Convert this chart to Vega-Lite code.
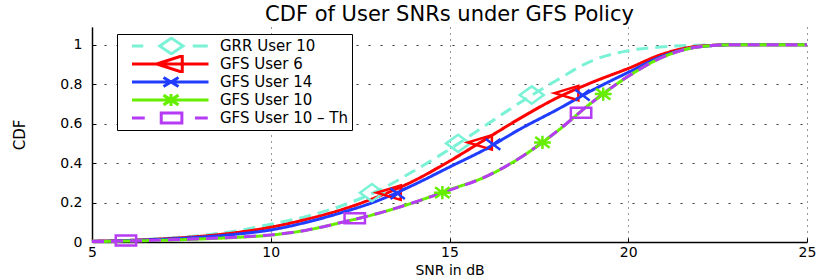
{
  "$schema": "https://vega.github.io/schema/vega-lite/v6.json",
  "width": 715,
  "height": 215,
  "autosize": {"type": "none"},
  "padding": {"left": 92, "top": 27, "right": 23, "bottom": 35},
  "background": "white",
  "config": {"view": {"stroke": null}, "font": "DejaVu Sans"},
  "title": {"text": "CDF of User SNRs under GFS Policy", "fontSize": 21, "fontWeight": "normal", "font": "DejaVu Sans", "color": "black", "anchor": "middle", "offset": 2},
  "datasets": {
    "curves": [
      {"series": "GRR User 10", "snr": 5, "cdf": 0.004}, {"series": "GRR User 10", "snr": 6, "cdf": 0.009}, {"series": "GRR User 10", "snr": 7, "cdf": 0.018}, {"series": "GRR User 10", "snr": 8, "cdf": 0.032}, {"series": "GRR User 10", "snr": 9, "cdf": 0.055}, {"series": "GRR User 10", "snr": 10, "cdf": 0.09}, {"series": "GRR User 10", "snr": 11, "cdf": 0.13}, {"series": "GRR User 10", "snr": 12, "cdf": 0.185}, {"series": "GRR User 10", "snr": 13, "cdf": 0.26}, {"series": "GRR User 10", "snr": 14, "cdf": 0.36}, {"series": "GRR User 10", "snr": 15, "cdf": 0.47}, {"series": "GRR User 10", "snr": 16, "cdf": 0.59}, {"series": "GRR User 10", "snr": 17, "cdf": 0.71}, {"series": "GRR User 10", "snr": 18, "cdf": 0.82}, {"series": "GRR User 10", "snr": 19, "cdf": 0.92}, {"series": "GRR User 10", "snr": 20, "cdf": 0.97}, {"series": "GRR User 10", "snr": 21, "cdf": 0.99}, {"series": "GRR User 10", "snr": 22, "cdf": 0.998}, {"series": "GRR User 10", "snr": 23, "cdf": 1}, {"series": "GRR User 10", "snr": 24, "cdf": 1}, {"series": "GRR User 10", "snr": 25, "cdf": 1},
      {"series": "GFS User 6", "snr": 5, "cdf": 0.004}, {"series": "GFS User 6", "snr": 6, "cdf": 0.008}, {"series": "GFS User 6", "snr": 7, "cdf": 0.016}, {"series": "GFS User 6", "snr": 8, "cdf": 0.028}, {"series": "GFS User 6", "snr": 9, "cdf": 0.047}, {"series": "GFS User 6", "snr": 10, "cdf": 0.075}, {"series": "GFS User 6", "snr": 11, "cdf": 0.115}, {"series": "GFS User 6", "snr": 12, "cdf": 0.165}, {"series": "GFS User 6", "snr": 13, "cdf": 0.23}, {"series": "GFS User 6", "snr": 14, "cdf": 0.31}, {"series": "GFS User 6", "snr": 15, "cdf": 0.41}, {"series": "GFS User 6", "snr": 16, "cdf": 0.52}, {"series": "GFS User 6", "snr": 17, "cdf": 0.63}, {"series": "GFS User 6", "snr": 18, "cdf": 0.73}, {"series": "GFS User 6", "snr": 19, "cdf": 0.81}, {"series": "GFS User 6", "snr": 20, "cdf": 0.88}, {"series": "GFS User 6", "snr": 21, "cdf": 0.955}, {"series": "GFS User 6", "snr": 22, "cdf": 0.993}, {"series": "GFS User 6", "snr": 23, "cdf": 1}, {"series": "GFS User 6", "snr": 24, "cdf": 1}, {"series": "GFS User 6", "snr": 25, "cdf": 1},
      {"series": "GFS User 14", "snr": 5, "cdf": 0.003}, {"series": "GFS User 14", "snr": 6, "cdf": 0.007}, {"series": "GFS User 14", "snr": 7, "cdf": 0.014}, {"series": "GFS User 14", "snr": 8, "cdf": 0.024}, {"series": "GFS User 14", "snr": 9, "cdf": 0.039}, {"series": "GFS User 14", "snr": 10, "cdf": 0.061}, {"series": "GFS User 14", "snr": 11, "cdf": 0.1}, {"series": "GFS User 14", "snr": 12, "cdf": 0.15}, {"series": "GFS User 14", "snr": 13, "cdf": 0.21}, {"series": "GFS User 14", "snr": 14, "cdf": 0.29}, {"series": "GFS User 14", "snr": 15, "cdf": 0.38}, {"series": "GFS User 14", "snr": 16, "cdf": 0.47}, {"series": "GFS User 14", "snr": 17, "cdf": 0.575}, {"series": "GFS User 14", "snr": 18, "cdf": 0.67}, {"series": "GFS User 14", "snr": 19, "cdf": 0.77}, {"series": "GFS User 14", "snr": 20, "cdf": 0.86}, {"series": "GFS User 14", "snr": 21, "cdf": 0.945}, {"series": "GFS User 14", "snr": 22, "cdf": 0.99}, {"series": "GFS User 14", "snr": 23, "cdf": 1}, {"series": "GFS User 14", "snr": 24, "cdf": 1}, {"series": "GFS User 14", "snr": 25, "cdf": 1},
      {"series": "GFS User 10", "snr": 5, "cdf": 0.002}, {"series": "GFS User 10", "snr": 6, "cdf": 0.005}, {"series": "GFS User 10", "snr": 7, "cdf": 0.009}, {"series": "GFS User 10", "snr": 8, "cdf": 0.015}, {"series": "GFS User 10", "snr": 9, "cdf": 0.023}, {"series": "GFS User 10", "snr": 10, "cdf": 0.035}, {"series": "GFS User 10", "snr": 11, "cdf": 0.06}, {"series": "GFS User 10", "snr": 12, "cdf": 0.1}, {"series": "GFS User 10", "snr": 13, "cdf": 0.145}, {"series": "GFS User 10", "snr": 14, "cdf": 0.2}, {"series": "GFS User 10", "snr": 15, "cdf": 0.265}, {"series": "GFS User 10", "snr": 16, "cdf": 0.33}, {"series": "GFS User 10", "snr": 17, "cdf": 0.43}, {"series": "GFS User 10", "snr": 18, "cdf": 0.56}, {"series": "GFS User 10", "snr": 19, "cdf": 0.71}, {"series": "GFS User 10", "snr": 20, "cdf": 0.84}, {"series": "GFS User 10", "snr": 21, "cdf": 0.94}, {"series": "GFS User 10", "snr": 22, "cdf": 0.99}, {"series": "GFS User 10", "snr": 23, "cdf": 1}, {"series": "GFS User 10", "snr": 24, "cdf": 1}, {"series": "GFS User 10", "snr": 25, "cdf": 1},
      {"series": "GFS User 10 – Th", "snr": 5, "cdf": 0.002}, {"series": "GFS User 10 – Th", "snr": 6, "cdf": 0.005}, {"series": "GFS User 10 – Th", "snr": 7, "cdf": 0.01}, {"series": "GFS User 10 – Th", "snr": 8, "cdf": 0.016}, {"series": "GFS User 10 – Th", "snr": 9, "cdf": 0.024}, {"series": "GFS User 10 – Th", "snr": 10, "cdf": 0.036}, {"series": "GFS User 10 – Th", "snr": 11, "cdf": 0.06}, {"series": "GFS User 10 – Th", "snr": 12, "cdf": 0.1}, {"series": "GFS User 10 – Th", "snr": 13, "cdf": 0.145}, {"series": "GFS User 10 – Th", "snr": 14, "cdf": 0.2}, {"series": "GFS User 10 – Th", "snr": 15, "cdf": 0.263}, {"series": "GFS User 10 – Th", "snr": 16, "cdf": 0.33}, {"series": "GFS User 10 – Th", "snr": 17, "cdf": 0.43}, {"series": "GFS User 10 – Th", "snr": 18, "cdf": 0.56}, {"series": "GFS User 10 – Th", "snr": 19, "cdf": 0.71}, {"series": "GFS User 10 – Th", "snr": 20, "cdf": 0.84}, {"series": "GFS User 10 – Th", "snr": 21, "cdf": 0.94}, {"series": "GFS User 10 – Th", "snr": 22, "cdf": 0.99}, {"series": "GFS User 10 – Th", "snr": 23, "cdf": 1}, {"series": "GFS User 10 – Th", "snr": 24, "cdf": 1}, {"series": "GFS User 10 – Th", "snr": 25, "cdf": 1}
    ],
    "markers": [
      {"series": "GRR User 10", "snr": 12.83, "cdf": 0.25}, {"series": "GRR User 10", "snr": 15.24, "cdf": 0.5}, {"series": "GRR User 10", "snr": 17.3, "cdf": 0.745},
      {"series": "GFS User 6", "snr": 13.3, "cdf": 0.25}, {"series": "GFS User 6", "snr": 15.85, "cdf": 0.505}, {"series": "GFS User 6", "snr": 18.27, "cdf": 0.755},
      {"series": "GFS User 14", "snr": 13.55, "cdf": 0.245}, {"series": "GFS User 14", "snr": 16.22, "cdf": 0.495}, {"series": "GFS User 14", "snr": 18.72, "cdf": 0.745},
      {"series": "GFS User 10", "snr": 14.8, "cdf": 0.25}, {"series": "GFS User 10", "snr": 17.6, "cdf": 0.505}, {"series": "GFS User 10", "snr": 19.3, "cdf": 0.75},
      {"series": "GFS User 10 – Th", "snr": 5.95, "cdf": 0.008}, {"series": "GFS User 10 – Th", "snr": 12.35, "cdf": 0.12}, {"series": "GFS User 10 – Th", "snr": 18.68, "cdf": 0.655}
    ]
  },
  "encoding": {
    "x": {"field": "snr", "type": "quantitative", "scale": {"domain": [5, 25], "nice": false, "zero": false},
      "axis": {"values": [5, 10, 15, 20, 25], "title": "SNR in dB", "titleFontSize": 14, "titleFontWeight": "normal", "titleColor": "black", "titleFont": "DejaVu Sans", "titleBaseline": "alphabetic", "titleY": 32,
        "labelFontSize": 14, "labelColor": "black", "labelFont": "DejaVu Sans", "labelFlush": false, "labelOverlap": false, "labelPadding": 7,
        "tickSize": -4, "tickColor": "black", "tickWidth": 1, "domainColor": "black", "domainWidth": 1.5,
        "grid": true, "gridDash": [1, 5], "gridColor": "#333333", "gridWidth": 1}},
    "y": {"field": "cdf", "type": "quantitative", "scale": {"domain": [0, 1.09], "nice": false},
      "axis": {"values": [0, 0.2, 0.4, 0.6, 0.8, 1], "format": "~g", "title": "CDF", "titleFontSize": 15, "titleFontWeight": "normal", "titleColor": "black", "titleFont": "DejaVu Sans", "titlePadding": 32,
        "labelFontSize": 14, "labelColor": "black", "labelFont": "DejaVu Sans", "labelFlush": false, "labelOverlap": false, "labelPadding": 14,
        "tickSize": -4, "tickColor": "black", "tickWidth": 1, "domainColor": "black", "domainWidth": 1.5,
        "grid": true, "gridDash": [2, 10], "gridColor": "#333333", "gridWidth": 1}},
    "color": {"field": "series", "type": "nominal",
      "scale": {"domain": ["GRR User 10", "GFS User 6", "GFS User 14", "GFS User 10", "GFS User 10 – Th"], "range": ["#79f2d6", "#ff0000", "#1f3cff", "#66ee00", "#b53bf5"]},
      "legend": {"orient": "none", "legendX": 25, "legendY": 7, "padding": 3, "strokeColor": "black", "fillColor": "white", "title": null, "clipHeight": 18,
        "symbolSize": 225, "symbolStrokeWidth": 3, "symbolOpacity": 1, "symbolFillColor": "transparent", "labelFontSize": 15, "labelFont": "DejaVu Sans", "labelColor": "black", "labelOffset": 82, "rowPadding": 0, "labelLimit": 400}}
  },
  "layer": [
    {"data": {"name": "curves"}, "mark": {"type": "line", "strokeWidth": 3, "interpolate": "monotone"},
      "encoding": {"strokeDash": {"field": "series", "type": "nominal", "scale": {"domain": ["GFS User 6", "GFS User 14", "GFS User 10", "GRR User 10", "GFS User 10 – Th"], "range": [[1, 0], [1, 0], [1, 0], [12, 7], [12, 7]]}, "legend": null}}},
    {"data": {"name": "markers"}, "transform": [{"filter": {"field": "series", "equal": "GRR User 10"}}],
      "mark": {"type": "point", "filled": false, "strokeWidth": 2.5, "size": 576, "opacity": 1, "shape": "M-1,0L0,-0.72L1,0L0,0.72Z"}},
    {"data": {"name": "markers"}, "transform": [{"filter": {"field": "series", "equal": "GFS User 6"}}],
      "mark": {"type": "point", "filled": false, "strokeWidth": 2.5, "size": 576, "opacity": 1, "shape": "M-1,0L1,-0.6L1,0.6Z"}},
    {"data": {"name": "markers"}, "transform": [{"filter": {"field": "series", "equal": "GFS User 14"}}],
      "mark": {"type": "point", "filled": false, "strokeWidth": 2.5, "size": 576, "opacity": 1, "shape": "M-0.6,-0.45L0.6,0.45M-0.6,0.45L0.6,-0.45"}},
    {"data": {"name": "markers"}, "transform": [{"filter": {"field": "series", "equal": "GFS User 10"}}],
      "mark": {"type": "point", "filled": false, "strokeWidth": 2.5, "size": 576, "opacity": 1, "shape": "M-0.6,-0.45L0.6,0.45M-0.6,0.45L0.6,-0.45M0,-0.55V0.55M-0.7,0H0.7"}},
    {"data": {"name": "markers"}, "transform": [{"filter": {"field": "series", "equal": "GFS User 10 – Th"}}],
      "mark": {"type": "point", "filled": false, "strokeWidth": 2.5, "size": 576, "opacity": 1, "shape": "M-0.85,-0.42H0.85V0.42H-0.85Z"}},
    {"data": {"name": "markers"}, "mark": {"type": "point", "filled": false, "strokeWidth": 3, "size": 225, "opacity": 0},
      "encoding": {"shape": {"field": "series", "type": "nominal",
        "scale": {"domain": ["GRR User 10", "GFS User 6", "GFS User 14", "GFS User 10", "GFS User 10 – Th"],
          "range": ["M0.4,0H1.9M8.5,0H10.5M4.1,0L5.65,-1.05L7.2,0L5.65,1.05Z", "M0.4,0H10.6M3.7,0L7.1,-1.1L7.1,1.1Z", "M0.4,0H10.6M4.6,-0.6L6.6,0.6M4.6,0.6L6.6,-0.6", "M0.4,0H10.6M4.6,-0.65L6.6,0.65M4.6,0.65L6.6,-0.65M5.6,-0.8V0.8", "M0.4,0H2.1M8.8,0H10.5M4.3,-0.67H7.05V0.67H4.3Z"]},
        "legend": {"orient": "none", "legendX": 25, "legendY": 7, "padding": 3, "strokeColor": "black", "fillColor": "white", "title": null, "clipHeight": 18,
          "symbolSize": 225, "symbolStrokeWidth": 3, "symbolOpacity": 1, "symbolFillColor": "transparent", "labelFontSize": 15, "labelFont": "DejaVu Sans", "labelColor": "black", "labelOffset": 82, "rowPadding": 0, "labelLimit": 400}}}}
  ]
}
